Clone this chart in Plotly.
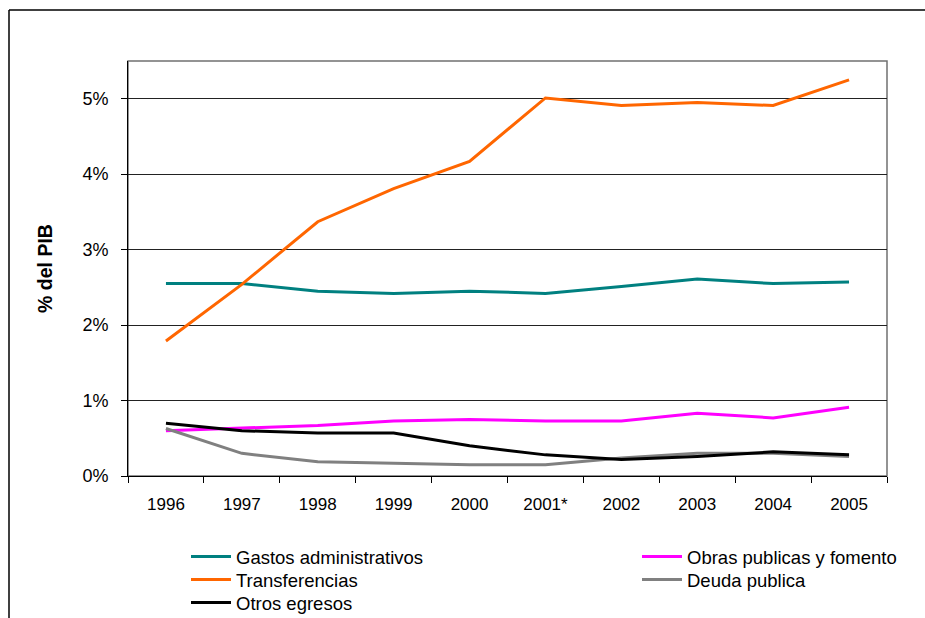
import plotly.graph_objects as go

years = ["1996", "1997", "1998", "1999", "2000", "2001*", "2002", "2003", "2004", "2005"]
gastos_admin = [2.55, 2.55, 2.45, 2.42, 2.45, 2.42, 2.51, 2.61, 2.55, 2.57]
obras_publicas = [0.60, 0.63, 0.67, 0.73, 0.75, 0.73, 0.73, 0.83, 0.77, 0.91]
transferencias = [1.79, 2.54, 3.37, 3.81, 4.17, 5.01, 4.91, 4.95, 4.91, 5.25]
deuda_publica = [0.63, 0.30, 0.19, 0.17, 0.15, 0.15, 0.24, 0.30, 0.30, 0.26]
otros_egresos = [0.70, 0.60, 0.57, 0.57, 0.40, 0.28, 0.22, 0.26, 0.32, 0.28]

# name, values, colour, legend column, legend row
series = [
    ("Gastos administrativos", gastos_admin, "#008080", 0, 0),
    ("Obras publicas y fomento", obras_publicas, "#FF00FF", 1, 0),
    ("Transferencias", transferencias, "#FF6600", 0, 1),
    ("Deuda publica", deuda_publica, "#808080", 1, 1),
    ("Otros egresos", otros_egresos, "#000000", 0, 2),
]

FONT = "Liberation Sans, Arial, sans-serif"
W, H = 925, 618
ML, MR, MT, MB = 128, 38, 61, 142
pw, ph = W - ML - MR, H - MT - MB

col_px = [186, 637]
row_px = [557, 580, 603]

fig = go.Figure()
legends = {}
for i, (name, vals, col, c, r) in enumerate(series):
    lg = "legend" if i == 0 else f"legend{i + 1}"
    fig.add_trace(go.Scatter(x=years, y=vals, name=name, mode="lines",
                             legend=lg, line=dict(color=col, width=3)))
    legends[lg] = dict(orientation="v", xanchor="left", yanchor="middle",
                       x=(col_px[c] - ML) / pw, y=-(row_px[r] - MT - ph) / ph,
                       itemwidth=40, tracegroupgap=0, borderwidth=0,
                       font=dict(family=FONT, size=18.5, color="black"),
                       bgcolor="rgba(0,0,0,0)")

fig.update_layout(
    width=W, height=H,
    margin=dict(l=ML, r=MR, t=MT, b=MB, pad=0, autoexpand=False),
    paper_bgcolor="white", plot_bgcolor="white",
    font=dict(family=FONT, size=18, color="black"),
    showlegend=True,
    xaxis=dict(type="category", range=[-0.5, 9.5], tickson="boundaries",
               ticks="outside", ticklen=6, ticklabelstandoff=13,
               tickcolor="black", showline=True, linecolor="black", linewidth=1,
               showgrid=False, tickfont=dict(size=17), zeroline=False),
    yaxis=dict(range=[0, 5.5], dtick=1, tick0=0, ticksuffix="%", ticks="outside",
               ticklen=6, ticklabelstandoff=9, tickcolor="black", showline=True,
               linecolor="black", linewidth=1, showgrid=True, gridcolor="#222222",
               gridwidth=1, zeroline=False, tickfont=dict(size=18),
               title=dict(text="<b>% del PIB</b>", font=dict(size=19.5), standoff=24)),
    shapes=[
        dict(type="rect", xref="paper", yref="paper", x0=0, x1=1, y0=0, y1=1,
             line=dict(color="#707070", width=1.5), layer="below"),
        dict(type="line", xref="paper", yref="paper",
             x0=(9 - ML) / pw, x1=(9 - ML) / pw,
             y0=1 + (MT - 10) / ph, y1=-(MB + 5) / ph,
             line=dict(color="black", width=1.5)),
        dict(type="line", xref="paper", yref="paper",
             x0=(9 - ML) / pw, x1=1 + (MR + 5) / pw,
             y0=1 + (MT - 10) / ph, y1=1 + (MT - 10) / ph,
             line=dict(color="black", width=1.5)),
    ],
)
fig.update_layout(**legends)

fig.write_html("out.html")
